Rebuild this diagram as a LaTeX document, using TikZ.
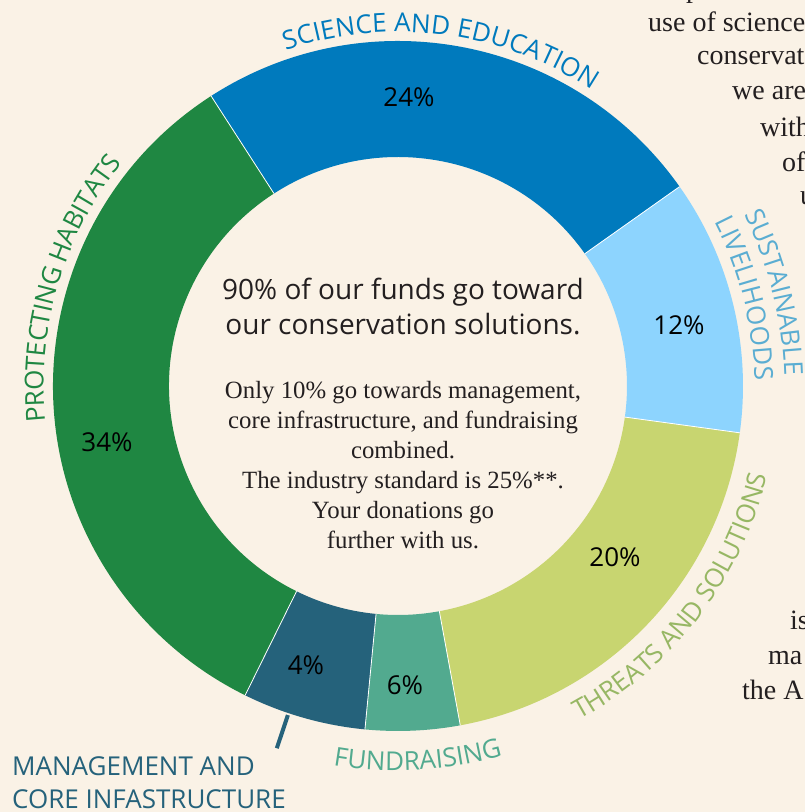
\documentclass[tikz,border=0pt]{standalone}
\usepackage{fontspec}
\setmainfont{Liberation Serif}
\newfontfamily\labelfont{Open Sans}
\usetikzlibrary{decorations.text}
\definecolor{paper}{HTML}{FAF2E6}
\definecolor{ink}{HTML}{231F20}
\definecolor{habitat}{HTML}{1F8742}
\definecolor{science}{HTML}{007ABD}
\definecolor{liveli}{HTML}{8DD4FE}
\definecolor{livelitext}{HTML}{5AADD2}
\definecolor{threat}{HTML}{C8D570}
\definecolor{threattext}{HTML}{97B764}
\definecolor{fundr}{HTML}{52AA8F}
\definecolor{manage}{HTML}{25627B}
\newcommand{\outerR}{345}
\newcommand{\innerR}{229}
\newcommand{\arcfont}{\labelfont\fontsize{26}{26}\selectfont}
\newcommand{\ringpart}[3]{% colour, from, to
  \fill[#1] (#2:\outerR) arc[start angle=#2, end angle=#3, radius=\outerR]
    -- (#3:\innerR) arc[start angle=#3, end angle=#2, radius=\innerR] -- cycle;
}
\newcommand{\arclabel}[5]{% colour, from, to, radius, text
  \path[decorate, decoration={text effects along path, text={#5},
      text effects/.cd, text along path, fit text to path,
      characters={text=#1, font=\arcfont}}]
    (#2:#4) arc[start angle=#2, end angle=#3, radius=#4];
}
\tikzset{
  pct/.style={font=\labelfont\fontsize{26}{26}\selectfont, text=black},
  head/.style={font=\labelfont\fontsize{28}{35}\selectfont, text=ink, align=center},
  body/.style={font=\fontsize{24.8}{30}\selectfont, text=ink, align=center},
  side/.style={font=\fontsize{28}{35}\selectfont, text=ink, anchor=base west, inner sep=0pt},
  mlabel/.style={font=\arcfont, text=manage, anchor=base west, inner sep=0pt},
  lead/.style={line width=4pt, manage}
}

\begin{document}
\begin{tikzpicture}[x=1pt,y=1pt]
  \fill[paper] (0,0) rectangle (805,812);
  \useasboundingbox (0,0) rectangle (805,812);
  \clip (0,0) rectangle (805,812);

  \begin{scope}[shift={(398,426)}]
    % the ring
    \foreach \col/\a/\b in {science/35.3/122.8, habitat/122.8/243.7,
        manage/243.7/264.5, fundr/264.5/280.4, threat/280.4/352.2,
        liveli/352.2/395.3}{
      \ringpart{\col}{\a}{\b}
    }
    \foreach \a in {35.3,122.8,243.7,264.5,280.4,352.2}
      \draw[white, line width=0.8pt] (\a:\innerR) -- (\a:\outerR);

    % labels round the ring
    \arclabel{science}{108.5}{56.7}{354}{SCIENCE AND EDUCATION}
    \arclabel{habitat}{185.8}{141}{354.5}{PROTECTING HABITATS}
    \arclabel{livelitext}{26.4}{1.5}{386.5}{SUSTAINABLE}
    \arclabel{livelitext}{27.4}{0.9}{356.5}{LIVELIHOODS}
    \arclabel{threattext}{-61.5}{-13.6}{380}{THREATS AND SOLUTIONS}
    \arclabel{fundr}{-99.7}{-74.2}{384.5}{FUNDRAISING}

    \coordinate (leadin) at (-108.5:347);
    \coordinate (leadout) at (-108.5:382);
    \draw[lead] (leadin) -- (leadout);
  \end{scope}

  % percentages
  \node[pct] (p24) at (409,715) {24\%};
  \node[pct] (p12) at (679,487) {12\%};
  \node[pct] (p34) at (107,370) {34\%};
  \node[pct] (p20) at (615,255) {20\%};
  \node[pct] (p6) at (405,127) {6\%};
  \node[pct] (p4) at (306,147) {4\%};

  \node[mlabel] (mgmt1) at (12,36) {MANAGEMENT AND};
  \node[mlabel] (mgmt2) at (12,3) {CORE INFASTRUCTURE};

  % centre text
  \node[head] (head) at (403,506) {90\% of our funds go toward\\our conservation solutions.};
  \node[body] (body) at (403,347) {Only 10\% go towards management,\\core infrastructure, and fundraising\\combined.\\The industry standard is 25\%**.\\Your donations go\\further with us.};

  % text running off the right edge
  \foreach \x/\y/\t [count=\i] in {686/814/p, 648/780/use of science,
      697/747/conservat, 732/712/we are, 760/675/with, 782/640/of,
      800/607/u, 790/182/is, 768/147/ma, 742/112/the A}
    \node[side] (side\i) at (\x,\y) {\t};
\end{tikzpicture}
\end{document}
